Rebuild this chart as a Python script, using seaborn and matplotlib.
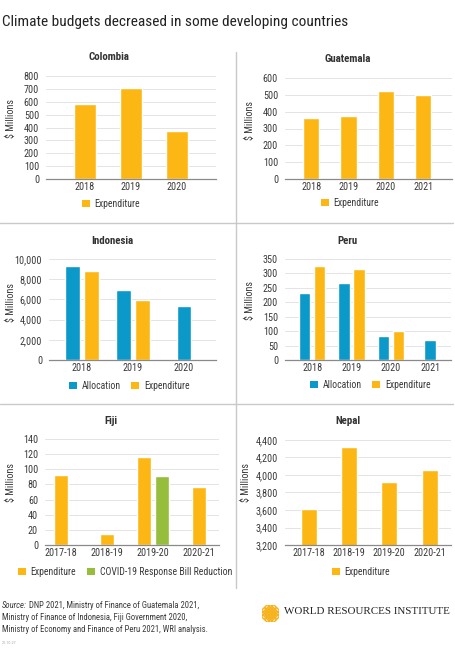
import numpy as np
import pandas as pd
import seaborn as sns
import matplotlib
matplotlib.use('Agg')
import matplotlib.pyplot as plt
from matplotlib import font_manager
from matplotlib.patches import Patch
from matplotlib.lines import Line2D
from matplotlib.ticker import FuncFormatter

# ------------------------------
# Data
# ------------------------------
colombia_years = ['2018', '2019', '2020']
colombia_exp = [585, 710, 370]

guatemala_years = ['2018', '2019', '2020', '2021']
guatemala_exp = [364, 376, 525, 500]

indonesia_years = ['2018', '2019', '2020']
indonesia_alloc = [9270, 6900, 5350]
indonesia_exp = [8840, 5910, None]

peru_years = ['2018', '2019', '2020', '2021']
peru_alloc = [231, 266, 83, 70]
peru_exp = [325, 314, 100, None]

fiji_years = ['2017-18', '2018-19', '2019-20', '2020-21']
fiji_exp = [93, 15, 116, 76]
fiji_covid = [None, None, 90.5, None]

nepal_years = ['2017-18', '2018-19', '2019-20', '2020-21']
nepal_exp = [3610, 4325, 3920, 4060]

ORANGE = '#FDB714'
BLUE = '#0A99C9'
GREEN = '#97BD3D'

# ------------------------------
# Style
# ------------------------------
sns.set_theme(style='white')
names = {f.name for f in font_manager.fontManager.ttflist}
FONT = next((n for n in ['Roboto Condensed', 'Liberation Sans Narrow', 'Roboto'] if n in names), 'DejaVu Sans')
plt.rcParams['font.family'] = [FONT, 'DejaVu Sans']
TXT = '#3a3a3a'

W, H = 455, 652
fig = plt.figure(figsize=(W / 100, H / 100), dpi=100)


def fx(px):
    return px / W


def fy(py):
    return 1 - py / H


def make_ax(l, t, r, b):
    return fig.add_axes([fx(l), fy(b), (r - l) / W, (b - t) / H])


def draw_panel(ax, years, series, colors, ylim, ticks, xlim, single_w, pair_w, gap):
    rows = []
    for name, vals in series.items():
        for y, v in zip(years, vals):
            if v is not None:
                rows.append({'year': y, 'series': name, 'value': v})
    df = pd.DataFrame(rows)
    counts = df.groupby('year')['series'].count()
    pairs = counts[counts > 1].index
    hue_order = list(series.keys())
    pal = dict(zip(hue_order, colors))
    dp = df[df['year'].isin(pairs)]
    ds = df[~df['year'].isin(pairs)]
    if len(dp):
        sns.barplot(data=dp, x='year', y='value', hue='series', order=years, hue_order=hue_order,
                    palette=pal, width=pair_w, gap=gap, dodge=True, errorbar=None,
                    legend=False, saturation=1, ax=ax)
    if len(ds):
        sns.barplot(data=ds, x='year', y='value', hue='series', order=years, hue_order=hue_order,
                    palette=pal, width=single_w, dodge=False, errorbar=None,
                    legend=False, saturation=1, ax=ax)
    ax.set_xlim(*xlim)
    ax.set_ylim(*ylim)
    ax.set_yticks(ticks)
    ax.yaxis.set_major_formatter(FuncFormatter(lambda v, p: f'{v:,.0f}'))
    ax.set_xlabel('')
    ax.set_ylabel('')
    ax.yaxis.grid(True, color='#e4e4e4', lw=0.7)
    ax.set_axisbelow(True)
    for s in ['top', 'right', 'left']:
        ax.spines[s].set_visible(False)
    ax.spines['bottom'].set_color('#8a8a8a')
    ax.spines['bottom'].set_linewidth(0.9)
    ax.tick_params(axis='y', length=0, pad=5, labelsize=7.3, labelcolor=TXT)
    ax.tick_params(axis='x', length=0, pad=2.5, labelsize=7.3, labelcolor=TXT)


def panel_text(title, tx, ty, lx, ly, legend_items, gx, gy):
    fig.text(fx(tx), fy(ty), title, ha='center', va='center', fontsize=7.8,
             fontweight='bold', color='#333333')
    fig.text(fx(lx), fy(ly), '$ Millions', ha='center', va='center', rotation=90,
             fontsize=7.3, color=TXT)
    handles = [Patch(facecolor=c, edgecolor='none', label=n) for n, c in legend_items]
    fig.legend(handles=handles, loc='center left', bbox_to_anchor=(fx(gx), fy(gy)),
               frameon=False, ncol=len(handles), handlelength=0.8, handleheight=0.8,
               handletextpad=0.5, columnspacing=1.1, fontsize=7.0, borderpad=0,
               borderaxespad=0, labelcolor=TXT)


# Colombia
ax = make_ax(46, 76, 216, 179)
draw_panel(ax, colombia_years, {'Expenditure': colombia_exp}, [ORANGE],
           (0, 800), np.arange(0, 801, 100), (-0.85, 2.85), 0.46, 0.46, 0)
panel_text('Colombia', 109, 57, 10.5, 118, [('Expenditure', ORANGE)], 82, 204)

# Guatemala
ax = make_ax(285, 78, 452, 179)
draw_panel(ax, guatemala_years, {'Expenditure': guatemala_exp}, [ORANGE],
           (0, 600), np.arange(0, 601, 100), (-0.7, 3.77), 0.43, 0.43, 0)
panel_text('Guatemala', 348, 59, 250, 120, [('Expenditure', ORANGE)], 321, 203)

# Indonesia
ax = make_ax(49, 259, 216, 360)
draw_panel(ax, indonesia_years, {'Allocation': indonesia_alloc, 'Expenditure': indonesia_exp},
           [BLUE, ORANGE], (0, 10000), np.arange(0, 10001, 2000), (-0.65, 2.63), 0.29, 0.73, 0.21)
panel_text('Indonesia', 112, 241, 10.5, 302, [('Allocation', BLUE), ('Expenditure', ORANGE)], 69, 386)

# Peru
ax = make_ax(285, 259, 451, 360)
draw_panel(ax, peru_years, {'Allocation': peru_alloc, 'Expenditure': peru_exp},
           [BLUE, ORANGE], (0, 350), np.arange(0, 351, 50), (-0.69, 3.53), 0.29, 0.75, 0.23)
panel_text('Peru', 347, 241, 250, 301, [('Allocation', BLUE), ('Expenditure', ORANGE)], 310, 385)

# Fiji
ax = make_ax(45, 439, 219, 545)
draw_panel(ax, fiji_years, {'Expenditure': fiji_exp, 'COVID-19 Response Bill Reduction': fiji_covid},
           [ORANGE, GREEN], (0, 140), np.arange(0, 141, 20), (-0.35, 3.43), 0.30, 0.77, 0.21)
panel_text('Fiji', 111, 421, 10.7, 483,
           [('Expenditure', ORANGE), ('COVID-19 Response Bill Reduction', GREEN)], 18, 572)

# Nepal
ax = make_ax(285, 440, 451, 545)
draw_panel(ax, nepal_years, {'Expenditure': nepal_exp}, [ORANGE],
           (3200, 4400), np.arange(3200, 4401, 200), (-0.59, 3.53), 0.40, 0.40, 0)
panel_text('Nepal', 348, 421, 246, 483, [('Expenditure', ORANGE)], 332, 572)

# Divider lines
div = '#c9c9c9'
fig.add_artist(Line2D([fx(235.5), fx(235.5)], [fy(52), fy(588)], color=div, lw=1))
fig.add_artist(Line2D([0, fx(453)], [fy(222.5), fy(222.5)], color=div, lw=1))
fig.add_artist(Line2D([0, fx(453)], [fy(403.5), fy(403.5)], color=div, lw=1))

# Main title
fig.text(fx(2.5), fy(22), 'Climate budgets decreased in some developing countries',
         ha='left', va='center', fontsize=11.1, color='#222222')

# Source note
renderer = fig.canvas.get_renderer()
src = fig.text(fx(2), fy(606), 'Source:', ha='left', va='center', fontsize=6.2,
               style='italic', color=TXT)
bb = src.get_window_extent(renderer)
fig.text(bb.x1 / W + fx(2), fy(606), 'DNP 2021, Ministry of Finance of Guatemala 2021,',
         ha='left', va='center', fontsize=6.2, color=TXT)
fig.text(fx(2), fy(617.5), 'Ministry of Finance of Indonesia, Fiji Government 2020,',
         ha='left', va='center', fontsize=6.2, color=TXT)
fig.text(fx(2), fy(630), 'Ministry of Economy and Finance of Peru 2021, WRI analysis.',
         ha='left', va='center', fontsize=6.2, color=TXT)
fig.text(fx(2), fy(643), '21.10.27', ha='left', va='center', fontsize=3, color='#aaaaaa')

# WRI logo (lattice of small diamonds)
lax = fig.add_axes([fx(262), fy(622), 17 / W, 17 / H])
pts = [(i, j) for i in range(-2, 3) for j in range(-2, 3) if abs(i) + abs(j) <= 3]
lax.scatter([p[0] for p in pts], [p[1] for p in pts], marker='D', s=9,
            facecolor='none', edgecolor='#F6B21B', lw=1.0)
lax.set_xlim(-2.8, 2.8)
lax.set_ylim(-2.8, 2.8)
lax.axis('off')
fig.text(fx(284), fy(612), 'WORLD RESOURCES INSTITUTE', ha='left', va='center',
         fontsize=7.9, family=['Liberation Serif', 'DejaVu Serif'], color='#222222')

fig.savefig('out.png', dpi=100)
